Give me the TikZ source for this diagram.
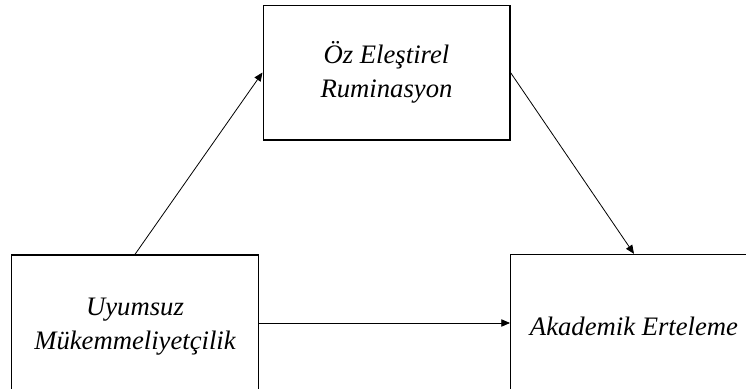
\documentclass[tikz,border=0pt]{standalone}
\usepackage{fontspec}
\setmainfont{Liberation Serif}
\usepackage{tikz}
\usetikzlibrary{arrows.meta, positioning}

\begin{document}
\begin{tikzpicture}[x=0.75pt, y=-0.75pt,
        kutu/.style={draw, line width=1pt, minimum width=185pt, minimum height=101pt,
            align=center, font=\fontsize{20}{25.5}\selectfont\itshape},
        yol/.style={line width=0.6pt, -{Triangle[length=6.5pt,width=5.5pt]}}]
        \useasboundingbox (0,0) rectangle (746,389);
        % Kutular
        \node[kutu] (ozelestirel) at (386.5,72.5) {Öz Eleştirel\\Ruminasyon};
        \node[kutu, minimum height=108pt] (uyumsuz) at (135,327) {Uyumsuz\\Mükemmeliyetçilik};
        \node[kutu, minimum height=108pt] (erteleme) at (634,326.5) {Akademik Erteleme};
        % Oklar
        \draw[yol] (uyumsuz.north) -- (ozelestirel.west);
        \draw[yol] (ozelestirel.east) -- (erteleme.north);
        \draw[yol] (uyumsuz.east |- 0,323) -- (erteleme.west |- 0,323);
    \end{tikzpicture}
\end{document}
